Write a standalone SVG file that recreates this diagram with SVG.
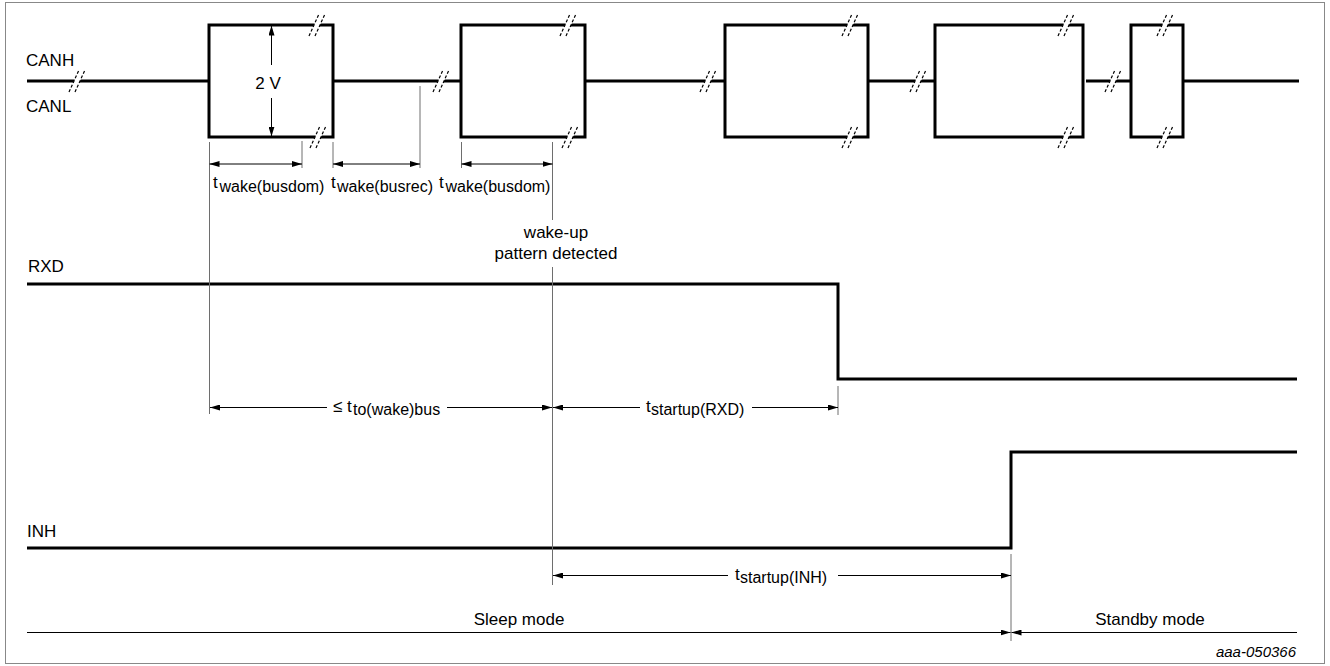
<svg xmlns="http://www.w3.org/2000/svg" xmlns:xlink="http://www.w3.org/1999/xlink" width="1330" height="666" viewBox="0 0 1330 666">
<style>
text{font-family:"Liberation Sans",Arial,sans-serif;fill:#000;font-size:17px}
.sub{font-size:16px}
.sig{fill:none;stroke:#000;stroke-width:3}
.dim{fill:none;stroke:#000;stroke-width:1}
.ext{fill:none;stroke:#6e6e6e;stroke-width:1}
.dash{stroke:#000;stroke-width:1.2;stroke-dasharray:3 2}
.mid{text-anchor:middle}
</style>
<defs>
<marker id="ah" viewBox="0 0 10 6" refX="10" refY="3" markerWidth="10" markerHeight="6" markerUnits="userSpaceOnUse" orient="auto-start-reverse"><path d="M0,0 L10,3 L0,6 z" fill="#000"/></marker>
<g id="brk">
<polygon points="-2.6,-3 3.4,-3 0.6,3 -5.4,3" fill="#fff"/>
<line x1="-9" y1="11" x2="1" y2="-11" class="dash"/>
<line x1="-3" y1="11" x2="7" y2="-11" class="dash"/>
</g>
</defs>
<rect x="5.5" y="2.5" width="1319" height="661" fill="#fff" stroke="#888" stroke-width="1"/>

<g id="can">
<path class="sig" d="M27,81 H209 M333,81 H461 M585,81 H725 M868,81 H935 M1086,81 H1131 M1183,81 H1299"/>
<rect class="sig" x="209" y="25" width="124" height="112"/>
<rect class="sig" x="461" y="25" width="124" height="112"/>
<rect class="sig" x="725" y="25" width="143" height="112"/>
<rect class="sig" x="935" y="25" width="148" height="112"/>
<rect class="sig" x="1131" y="25" width="52" height="112"/>
<use xlink:href="#brk" x="78" y="81"/>
<use xlink:href="#brk" x="318" y="25"/>
<use xlink:href="#brk" x="319" y="137"/>
<use xlink:href="#brk" x="442" y="81"/>
<use xlink:href="#brk" x="569" y="25"/>
<use xlink:href="#brk" x="571" y="137"/>
<use xlink:href="#brk" x="709" y="81"/>
<use xlink:href="#brk" x="851" y="25"/>
<use xlink:href="#brk" x="851" y="137"/>
<use xlink:href="#brk" x="919" y="81"/>
<use xlink:href="#brk" x="1067" y="25"/>
<use xlink:href="#brk" x="1067" y="137"/>
<use xlink:href="#brk" x="1114" y="81"/>
<use xlink:href="#brk" x="1166" y="25"/>
<use xlink:href="#brk" x="1166" y="137"/>
<text x="26" y="66">CANH</text>
<text x="26" y="112">CANL</text>
<path class="dim" d="M271.5,65 V25.5" marker-end="url(#ah)"/>
<path class="dim" d="M271.5,98 V136.5" marker-end="url(#ah)"/>
<text x="268" y="89" class="mid">2 V</text>
</g>

<g id="rxd">
<path class="sig" d="M27,284 H838 V379 H1297"/>
<text x="28" y="272">RXD</text>
</g>

<g id="inh">
<path class="sig" d="M27,548 H1011 V452 H1297"/>
<text x="27" y="537">INH</text>
</g>

<g id="connectors">
<path class="ext" d="M209.5,142 V414 M302,141 V168 M333,142 V168 M420,86 V168 M461.5,142 V168 M552.5,142 V220 M552.5,267 V585 M838,386 V415 M1011,554 V641"/>
<path class="dim" d="M209.5,164 H302" marker-start="url(#ah)" marker-end="url(#ah)"/>
<path class="dim" d="M333,164 H420" marker-start="url(#ah)" marker-end="url(#ah)"/>
<path class="dim" d="M461.5,164 H552.5" marker-start="url(#ah)" marker-end="url(#ah)"/>
<path class="dim" d="M327,407.5 H210" marker-end="url(#ah)"/>
<path class="dim" d="M447,407.5 H552" marker-end="url(#ah)"/>
<path class="dim" d="M640,407.5 H553" marker-end="url(#ah)"/>
<path class="dim" d="M752,407.5 H838" marker-end="url(#ah)"/>
<path class="dim" d="M728,575.5 H553" marker-end="url(#ah)"/>
<path class="dim" d="M838,575.5 H1011" marker-end="url(#ah)"/>
<path class="dim" d="M27,632.5 H1010.5" marker-end="url(#ah)"/>
<path class="dim" d="M1297,632.5 H1011.5" marker-end="url(#ah)"/>
</g>

<g id="labels">
<text x="213" y="188">t<tspan x="219.5" dy="4" class="sub">wake(busdom)</tspan></text>
<text x="331" y="188">t<tspan x="337" dy="4" class="sub">wake(busrec)</tspan></text>
<text x="439" y="188">t<tspan x="445.5" dy="4" class="sub">wake(busdom)</tspan></text>
<text x="556" y="238" class="mid">wake-up</text>
<text x="556" y="259" class="mid">pattern detected</text>
<text x="333" y="412">≤ t<tspan x="353" dy="3" class="sub">to(wake)bus</tspan></text>
<text x="646" y="412">t<tspan x="651" dy="3" class="sub">startup(RXD)</tspan></text>
<text x="735" y="580">t<tspan x="740" dy="3" class="sub">startup(INH)</tspan></text>
<text x="519" y="625" class="mid">Sleep mode</text>
<text x="1150" y="625" class="mid">Standby mode</text>
<text x="1296" y="657" style="font-size:15px;font-style:italic;text-anchor:end">aaa-050366</text>
</g>
</svg>
